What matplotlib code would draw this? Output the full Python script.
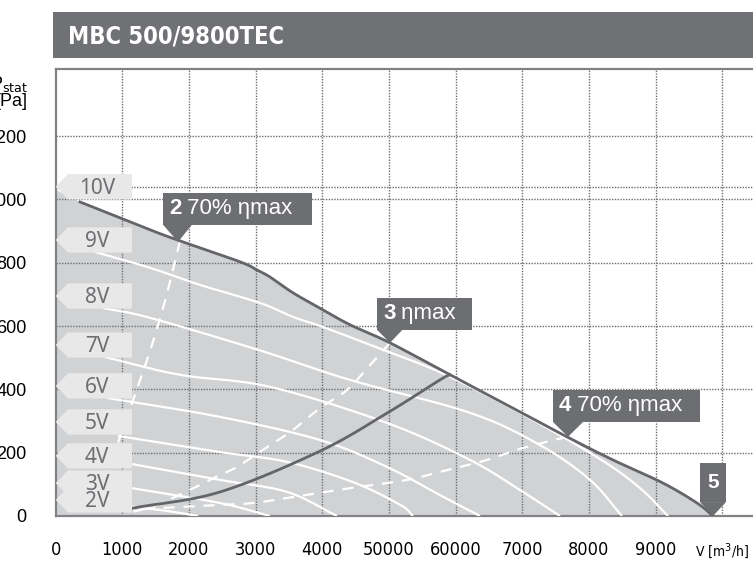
import numpy as np
import matplotlib.pyplot as plt
from matplotlib.patches import Polygon, Rectangle

# fan curve data, V in m3/h, P in Pa
env_v = [365, 1415, 1865, 2765, 3020, 3214, 3560, 4010, 4415, 5015, 5915, 6965, 7670, 8360, 9110, 9620, 9860]
env_p = [992, 904, 869, 803, 777, 755, 705, 651, 604, 547, 446, 329, 250, 177, 104, 41, 0]

speed_curves = {
    '9V': ([590, 1415, 2165, 3065, 3560, 4010, 4910, 5810, 6965, 8165, 8765, 9185],
           [834, 784, 730, 673, 629, 597, 525, 450, 326, 180, 88, 0]),
    '8V': ([710, 1415, 3065, 4415, 6215, 7265, 8015, 8495],
           [657, 626, 523, 430, 326, 224, 114, 0]),
    '7V': ([740, 1865, 3215, 4970, 6215, 6965, 7565],
           [502, 446, 408, 294, 177, 82, 0]),
    '6V': ([770, 2465, 3965, 4970, 5765, 6365],
           [373, 313, 240, 155, 66, 0]),
    '5V': ([935, 2465, 3470, 4460, 5170, 5360],
           [253, 202, 171, 107, 35, 0]),
    '4V': ([1145, 2465, 3470, 4220],
           [164, 114, 76, 0]),
    '3V': ([1145, 2465, 3215],
           [88, 41, 0]),
    '2V': ([1145, 1700, 2140],
           [30, 15, 0]),
}

# efficiency lines
eff2_v = [1865, 1640, 1415, 1160, 965, 810, 740]
eff2_p = [869, 680, 522, 366, 250, 145, 50]
eff3_v = [5015, 4715, 4370, 3965, 3560, 3110, 2720, 2465, 2165, 1520, 1160]
eff3_p = [547, 477, 398, 341, 272, 209, 155, 130, 98, 35, 13]
eff4_v = [7670, 7010, 6470, 5870, 5270, 4415, 3470, 2965, 2465, 1520, 1160]
eff4_p = [250, 215, 177, 145, 114, 88, 57, 41, 35, 25, 20]

# system curve
sys_v = [1160, 2465, 3965, 4970, 5765, 5915]
sys_p = [25, 76, 205, 325, 430, 446]

volt_labels = ['10V', '9V', '8V', '7V', '6V', '5V', '4V', '3V', '2V']
volt_label_p = [1040, 872, 695, 540, 411, 297, 190, 104, 51]

x_ticks = [0, 1000, 2000, 3000, 4000, 5000, 6000, 7000, 8000, 9000, 10000]
x_ticklabels = ['0', '1000', '2000', '3000', '4000', '50000', '60000', '7000', '8000', '9000', 'V [m$^3$/h]']
y_ticks = [0, 200, 400, 600, 800, 1000, 1200]

dark = '#646568'
box_dark = '#6d6e71'
fill_gray = '#d1d2d4'
light_box = '#e8e8e9'


def smooth(xs, ys, n=16):
    # Catmull-Rom through the read points
    pts = np.column_stack([xs, ys]).astype(float)
    pts = np.vstack([2 * pts[0] - pts[1], pts, 2 * pts[-1] - pts[-2]])
    out = []
    t = np.linspace(0, 1, n, endpoint=False)[:, None]
    for i in range(1, len(pts) - 2):
        p0, p1, p2, p3 = pts[i - 1], pts[i], pts[i + 1], pts[i + 2]
        seg = 0.5 * ((2 * p1) + (-p0 + p2) * t + (2 * p0 - 5 * p1 + 4 * p2 - p3) * t ** 2
                     + (-p0 + 3 * p1 - 3 * p2 + p3) * t ** 3)
        out.append(seg)
    out.append(pts[-2][None, :])
    out = np.vstack(out)
    return out[:, 0], out[:, 1]


fig = plt.figure(figsize=(7.53, 5.63), dpi=100)
ax = fig.add_axes([55.7 / 753, 47 / 563, (753 - 55.7) / 753, 447 / 563])
ax.set_xlim(0, 10460)
ax.set_ylim(0, 1412)

# shaded working area
ev, ep = smooth(env_v, env_p)
ax.fill(np.r_[0, 0, ev], np.r_[0, 1030, ep], color=fill_gray, lw=0, zorder=1)

# grid
for v in x_ticks[1:]:
    ax.axvline(v, color='#6d6e71', lw=1, ls=(0, (1, 1)), zorder=2)
for p in y_ticks[1:] + [1040]:
    ax.axhline(p, color='#6d6e71', lw=1, ls=(0, (1, 1)), zorder=2)

for name, (v, p) in speed_curves.items():
    sv, sp = smooth(v, p)
    ax.plot(sv, sp, color='white', lw=1.6, zorder=3, solid_capstyle='butt')

for v, p in [(eff2_v, eff2_p), (eff3_v, eff3_p), (eff4_v, eff4_p)]:
    sv, sp = smooth(v, p)
    ax.plot(sv, sp, color='white', lw=1.6, ls=(0, (5, 4)), zorder=3)

sv, sp = smooth(sys_v, sys_p)
ax.plot(sv, sp, color=dark, lw=2, zorder=4)
ax.plot(ev, ep, color=dark, lw=2, zorder=5)

# voltage tags with arrow pointing at the pressure axis
for lab, p in zip(volt_labels, volt_label_p):
    h = 40
    pts = [(0, p), (185, p + h), (1145, p + h), (1145, p - h), (185, p - h)]
    ax.add_patch(Polygon(pts, closed=True, fc=light_box, ec='none', zorder=6, clip_on=False))
    ax.text(620, p - 4, lab, ha='center', va='center', fontsize=15, color='#6d6e71',
            family='Noto Sans', zorder=7)

# callouts on the envelope
callouts = [
    ('2', ' 70% ηmax', (1610, 3850), (920, 1021), (1610, 2045), (1835, 866)),
    ('3', ' ηmax', (4820, 6245), (588, 689), (4820, 5200), (5015, 547)),
    ('4', ' 70% ηmax', (7460, 9665), (297, 398), (7460, 7910), (7685, 250)),
    ('5', '', (9665, 10055), (44, 167), (9665, 10055), (9860, 0)),
]
for num, rest, (x0, x1), (y0, y1), (b0, b1), tip in callouts:
    ax.add_patch(Rectangle((x0, y0), x1 - x0, y1 - y0, fc=box_dark, ec='none', zorder=8))
    ax.add_patch(Polygon([(b0, y0), (b1, y0), tip], closed=True, fc=box_dark, ec='none', zorder=8))
    if rest:
        t = ax.text(x0 + 90, (y0 + y1) / 2, num, ha='left', va='center', fontsize=16,
                    color='white', weight='bold', family='Liberation Sans', zorder=9)
        ax.annotate(rest, xy=(1, 0), xycoords=t, ha='left', va='bottom', fontsize=16,
                    color='white', family='Liberation Sans', zorder=9)
    else:
        ax.text((x0 + x1) / 2, (y0 + y1) / 2, num, ha='center', va='center', fontsize=15,
                color='white', weight='bold', family='Liberation Sans', zorder=9)

for side in ['left', 'bottom', 'top']:
    ax.spines[side].set_color('#808285')
    ax.spines[side].set_linewidth(1.6)
ax.spines['right'].set_visible(False)

ax.set_xticks(x_ticks)
ax.set_xticklabels(x_ticklabels, family='DejaVu Sans', fontstretch='condensed', fontsize=13)
ax.set_yticks(y_ticks)
ax.set_yticklabels([str(v) for v in y_ticks], family='Liberation Sans', fontsize=13)
ax.tick_params(axis='x', length=0, pad=18)
ax.tick_params(axis='y', length=0, pad=21)
ax.xaxis.get_ticklabels()[-1].set_fontsize(10)

# title banner
fig.patches.append(Rectangle((53 / 753, 505 / 563), 1 - 53 / 753, 46 / 563,
                             transform=fig.transFigure, fc='#707175', ec='none'))
fig.text(68 / 753, (563 - 36) / 563, 'MBC 500/9800TEC', color='white', fontsize=17,
         weight='bold', family='DejaVu Sans', fontstretch='condensed', va='center')

fig.text(28 / 753, (563 - 84) / 563, r'P$_{\mathrm{stat}}$', ha='right', va='center',
         fontsize=13, family='Liberation Sans')
fig.text(28 / 753, (563 - 101) / 563, '[Pa]', ha='right', va='center',
         fontsize=13, family='Liberation Sans')

fig.savefig('out.png', dpi=100)
